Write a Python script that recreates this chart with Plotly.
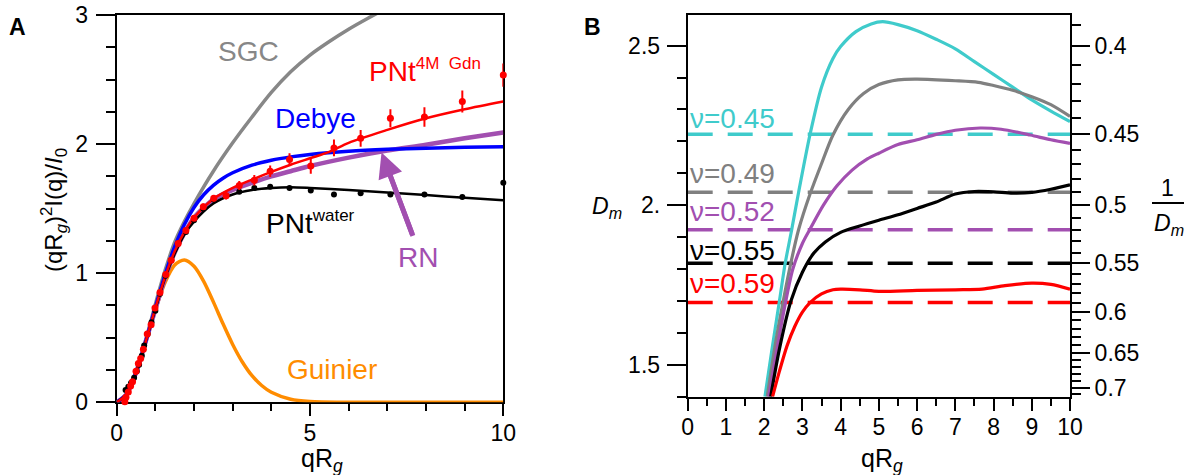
import plotly.graph_objects as go

FONT = "Liberation Sans, Arial, sans-serif"
W, H = 1188, 475

# ---------------- Panel A data ----------------
debye_x = [0, 0.25, 0.5, 0.75, 1, 1.25, 1.5, 1.75, 2, 2.25, 2.5, 2.75, 3, 3.5, 4, 4.5, 5, 6, 7, 8, 9, 10]
debye_y = [0, 0.0612, 0.2304, 0.4703, 0.7358, 0.9883, 1.2048, 1.3775, 1.5092, 1.6074, 1.6806, 1.7356,
           1.7778, 1.8367, 1.875, 1.9012, 1.92, 1.9444, 1.9592, 1.9688, 1.9753, 1.98]

guinier_x = [0, 0.25, 0.5, 0.75, 1, 1.25, 1.5, 1.75, 2, 2.25, 2.5, 2.75, 3, 3.25, 3.5, 3.75, 4, 4.5, 5, 6, 7, 8, 9, 10]
guinier_y = [0, 0.0612, 0.230, 0.466, 0.7165, 0.928, 1.063, 1.103, 1.054, 0.937, 0.778, 0.608, 0.448,
             0.312, 0.206, 0.130, 0.0773, 0.0237, 0.006, 0.0002, 0, 0, 0, 0]

sgc_x = [0, 0.25, 0.5, 0.75, 1, 1.25, 1.5, 1.75, 2, 2.5, 3, 3.5, 4, 4.5, 5, 5.5, 6, 6.5, 7, 7.5]
sgc_y = [0, 0.06, 0.23, 0.48, 0.76, 1.02, 1.24, 1.40, 1.54, 1.79, 2.01, 2.21, 2.40, 2.56, 2.69, 2.795,
         2.89, 2.975, 3.055, 3.13]

rn_x = [0, 0.25, 0.5, 0.75, 1, 1.25, 1.5, 1.75, 2, 2.5, 3, 3.5, 4, 4.5, 5, 6, 7, 8, 9, 10]
rn_y = [0, 0.06, 0.23, 0.47, 0.72, 0.96, 1.16, 1.31, 1.43, 1.57, 1.645, 1.70, 1.75, 1.79, 1.83, 1.895,
        1.95, 1.995, 2.045, 2.09]

water_fit_x = [0, 0.25, 0.5, 0.75, 1, 1.25, 1.5, 1.75, 2, 2.5, 3, 3.5, 4, 4.5, 5, 6, 7, 8, 9, 10]
water_fit_y = [0, 0.06, 0.23, 0.47, 0.72, 0.96, 1.15, 1.30, 1.40, 1.54, 1.61, 1.645, 1.66, 1.665, 1.66,
               1.645, 1.625, 1.605, 1.585, 1.565]

gdn_fit_x = [0, 0.25, 0.5, 0.75, 1, 1.25, 1.5, 1.75, 2, 2.5, 3, 3.5, 4, 4.5, 5, 5.5, 6, 7, 8, 9, 10]
gdn_fit_y = [0, 0.06, 0.23, 0.47, 0.73, 0.97, 1.17, 1.32, 1.43, 1.575, 1.66, 1.725, 1.785, 1.84, 1.89,
             1.94, 2.01, 2.11, 2.20, 2.27, 2.33]

water_pts_x = [0.23, 0.30, 0.37, 0.45, 0.52, 0.58, 0.65, 0.71, 0.80, 0.90, 1.0, 1.12, 1.26, 1.41, 1.59,
               1.79, 2.0, 2.24, 2.51, 2.83, 3.17, 3.56, 3.97, 4.47, 5.02, 5.62, 6.31, 7.08, 7.96, 8.94, 10.0]
water_pts_y = [0.095, 0.12, 0.15, 0.19, 0.24, 0.29, 0.36, 0.44, 0.53, 0.62, 0.71, 0.84, 0.98, 1.10, 1.23,
               1.32, 1.41, 1.50, 1.57, 1.60, 1.63, 1.66, 1.67, 1.66, 1.64, 1.61, 1.62, 1.61, 1.61, 1.59, 1.70]

gdn_pts_x = [0.21, 0.24, 0.30, 0.36, 0.41, 0.50, 0.56, 0.62, 0.69, 0.79, 0.89, 0.99, 1.12, 1.27, 1.41,
             1.59, 1.79, 2.0, 2.24, 2.51, 2.83, 3.17, 3.56, 3.97, 4.47, 5.02, 5.62, 6.31, 7.08, 7.96, 8.94, 10.0]
gdn_pts_y = [0.005, 0.04, 0.08, 0.126, 0.16, 0.24, 0.30, 0.34, 0.41, 0.53, 0.60, 0.73, 0.85, 0.99, 1.10,
             1.23, 1.33, 1.425, 1.515, 1.58, 1.60, 1.68, 1.72, 1.79, 1.88, 1.83, 1.97, 2.045, 2.20, 2.21, 2.33, 2.535]
gdn_pts_err = [0.01, 0.01, 0.01, 0.01, 0.01, 0.01, 0.01, 0.01, 0.01, 0.01, 0.01, 0.01, 0.015, 0.015, 0.015,
               0.02, 0.02, 0.02, 0.025, 0.025, 0.03, 0.035, 0.04, 0.045, 0.05, 0.06, 0.065, 0.065, 0.07,
               0.075, 0.085, 0.09]

# RN arrow (tail -> head) in data units of panel A
rn_arrow_x = [7.66, 6.85]
rn_arrow_y = [1.29, 1.935]

# ---------------- Panel B data ----------------
cyan_x = [2.02, 2.2, 2.4, 2.55, 2.72, 2.9, 3.2, 3.5, 3.8, 4.0, 4.4, 4.8, 5.1, 5.5, 6.0, 6.5, 7.0, 7.5, 8.0,
          8.5, 9.0, 9.5, 10]
cyan_y = [1.40, 1.545, 1.70, 1.818, 1.923, 2.04, 2.222, 2.37, 2.46, 2.497, 2.544, 2.568, 2.575, 2.566,
          2.547, 2.52, 2.49, 2.45, 2.41, 2.37, 2.33, 2.295, 2.262]

gray_x = [2.08, 2.3, 2.5, 2.7, 2.9, 3.2, 3.5, 3.8, 4.2, 4.6, 5.0, 5.5, 6.0, 7.0, 7.6, 8.0, 8.5, 9.0, 9.5, 10]
gray_y = [1.40, 1.57, 1.70, 1.82, 1.923, 2.035, 2.13, 2.22, 2.30, 2.35, 2.378, 2.393, 2.395, 2.39, 2.385,
          2.375, 2.36, 2.34, 2.315, 2.278]

purple_x = [2.12, 2.35, 2.55, 2.75, 3.0, 3.2, 3.55, 3.9, 4.3, 4.7, 5.0, 5.5, 6.0, 6.5, 7.0, 7.65, 8.2, 8.96, 9.5, 10]
purple_y = [1.40, 1.56, 1.69, 1.80, 1.88, 1.925, 2.0, 2.06, 2.11, 2.145, 2.163, 2.19, 2.205, 2.222, 2.235,
            2.242, 2.238, 2.22, 2.205, 2.194]

black_x = [2.17, 2.4, 2.7, 3.0, 3.3, 3.6, 4.0, 4.5, 5.0, 5.5, 6.0, 6.5, 7.0, 7.5, 8.0, 8.5, 9.0, 9.5, 10]
black_y = [1.40, 1.55, 1.70, 1.79, 1.85, 1.885, 1.915, 1.935, 1.953, 1.97, 1.99, 2.01, 2.035, 2.043, 2.042,
           2.038, 2.04, 2.05, 2.064]

red_x = [2.22, 2.4, 2.6, 2.8, 3.0, 3.2, 3.5, 3.8, 4.0, 4.5, 5.0, 6.0, 7.0, 7.7, 8.3, 9.0, 9.5, 10]
red_y = [1.40, 1.48, 1.56, 1.62, 1.665, 1.695, 1.722, 1.735, 1.737, 1.735, 1.73, 1.733, 1.735, 1.737,
         1.748, 1.756, 1.752, 1.737]

nu_values = [0.45, 0.49, 0.52, 0.55, 0.59]
nu_labels = ["ν=0.45", "ν=0.49", "ν=0.52", "ν=0.55", "ν=0.59"]
nu_colors = ["#3FCBCB", "#808080", "#A24FB0", "#000000", "#FF0000"]

inv_major = [0.4, 0.45, 0.5, 0.55, 0.6, 0.65, 0.7]
inv_major_text = ["0.4", "0.45", "0.5", "0.55", "0.6", "0.65", "0.7"]
inv_minor = [0.39, 0.41, 0.42, 0.43, 0.44, 0.46, 0.47, 0.48, 0.49, 0.51, 0.52, 0.53, 0.54, 0.56, 0.57,
             0.58, 0.59, 0.61, 0.62, 0.63, 0.64, 0.66, 0.67, 0.68, 0.69, 0.71]

CYAN, GRAY, PURPLE, BLUE, ORANGE, RED = "#3FCBCB", "#878787", "#A24FB0", "#0000FF", "#FF8C00", "#FF0000"

fig = go.Figure()
spl = dict(shape="spline", smoothing=0.8)

# Panel A traces
fig.add_trace(go.Scatter(x=sgc_x, y=sgc_y, mode="lines", line=dict(color=GRAY, width=3.5, **spl), xaxis="x", yaxis="y"))
fig.add_trace(go.Scatter(x=guinier_x, y=guinier_y, mode="lines", line=dict(color=ORANGE, width=3.5, **spl), xaxis="x", yaxis="y"))
fig.add_trace(go.Scatter(x=rn_x, y=rn_y, mode="lines", line=dict(color=PURPLE, width=4.5, **spl), xaxis="x", yaxis="y"))
fig.add_trace(go.Scatter(x=debye_x, y=debye_y, mode="lines", line=dict(color=BLUE, width=3.5, **spl), xaxis="x", yaxis="y"))
fig.add_trace(go.Scatter(x=water_fit_x, y=water_fit_y, mode="lines", line=dict(color="black", width=2.5, **spl), xaxis="x", yaxis="y"))
fig.add_trace(go.Scatter(x=gdn_fit_x, y=gdn_fit_y, mode="lines", line=dict(color=RED, width=2.5, **spl), xaxis="x", yaxis="y"))
fig.add_trace(go.Scatter(x=water_pts_x, y=water_pts_y, mode="markers", marker=dict(color="black", size=6),
                         cliponaxis=False, xaxis="x", yaxis="y"))
fig.add_trace(go.Scatter(x=gdn_pts_x, y=gdn_pts_y, mode="markers", marker=dict(color=RED, size=7),
                         error_y=dict(type="data", array=gdn_pts_err, thickness=2, width=0, color=RED),
                         cliponaxis=False, xaxis="x", yaxis="y"))
# arrow shaft
fig.add_trace(go.Scatter(x=[rn_arrow_x[0], rn_arrow_x[0] + 0.88 * (rn_arrow_x[1] - rn_arrow_x[0])],
                         y=[rn_arrow_y[0], rn_arrow_y[0] + 0.88 * (rn_arrow_y[1] - rn_arrow_y[0])],
                         mode="lines", line=dict(color=PURPLE, width=5), xaxis="x", yaxis="y"))

# Panel B traces
for v, c in zip(nu_values, nu_colors):
    fig.add_trace(go.Scatter(x=[0, 10], y=[1 / v, 1 / v], mode="lines",
                             line=dict(color=c, width=3.5, dash="25px,15px"), xaxis="x2", yaxis="y2"))
for xs, ys, c in [(cyan_x, cyan_y, CYAN), (gray_x, gray_y, "#808080"), (purple_x, purple_y, PURPLE),
                  (black_x, black_y, "black"), (red_x, red_y, RED)]:
    fig.add_trace(go.Scatter(x=xs, y=ys, mode="lines", line=dict(color=c, width=3.2, **spl), xaxis="x2", yaxis="y2"))

# invisible trace to activate right axis
fig.add_trace(go.Scatter(x=[0], y=[2.0], mode="markers", marker=dict(opacity=0), xaxis="x2", yaxis="y3",
                         hoverinfo="skip"))

tickfont = dict(family=FONT, size=23, color="black")
ax_common = dict(showline=True, linecolor="black", linewidth=2, ticks="outside", tickwidth=2, tickcolor="black",
                 showgrid=False, zeroline=False, tickfont=tickfont, automargin=False)

fig.update_layout(
    width=W, height=H, margin=dict(l=0, r=0, t=0, b=0), showlegend=False,
    paper_bgcolor="white", plot_bgcolor="white", font=dict(family=FONT, color="black"),
    xaxis=dict(domain=[116.7 / W, 503.3 / W], range=[0, 10], anchor="y", tickvals=[0, 5, 10], ticklen=12,
               mirror=True, minor=dict(tick0=0, dtick=1, ticklen=7, tickwidth=2, ticks="outside", tickcolor="black"),
               layer="below traces", ticklabelstandoff=-3, **ax_common),
    yaxis=dict(domain=[1 - 402.3 / H, 1 - 15 / H], range=[0, 3], anchor="x", tickvals=[0, 1, 2, 3], ticklen=19,
               mirror=True, minor=dict(tick0=0, dtick=0.25, ticklen=9, tickwidth=2, ticks="outside", tickcolor="black"),
               layer="below traces", ticklabelstandoff=3, **ax_common),
    xaxis2=dict(domain=[687.7 / W, 1070 / W], range=[0, 10], anchor="y2", dtick=1, tick0=0, ticklen=12,
                mirror=True, minor=dict(tick0=0, dtick=0.5, ticklen=7, tickwidth=2, ticks="outside", tickcolor="black"),
                ticklabelstandoff=-3, **ax_common),
    yaxis2=dict(domain=[1 - 396.7 / H, 1 - 14.7 / H], range=[1.40, 2.597], anchor="x2",
                tickvals=[1.5, 2.0, 2.5], ticktext=["1.5", "2.", "2.5"], ticklen=19,
                minor=dict(tick0=1.5, dtick=0.1, ticklen=9, tickwidth=2, ticks="outside", tickcolor="black"),
                ticklabelstandoff=2, **ax_common),
    yaxis3=dict(overlaying="y2", side="right", anchor="x2", range=[1.40, 2.597],
                tickvals=[1 / v for v in inv_major], ticktext=inv_major_text, ticklen=18,
                minor=dict(tickmode="array", tickvals=[1 / v for v in inv_minor], ticklen=9, tickwidth=2,
                           ticks="outside", tickcolor="black"),
                **ax_common),
)


def px(xp, yp):
    return xp / W, 1 - yp / H


ann = []


def add_text(text, xp, yp, size, color="black", **kw):
    x, y = px(xp, yp)
    d = dict(text=text, x=x, y=y, xref="paper", yref="paper", showarrow=False,
             font=dict(family=FONT, size=size, color=color), xanchor="center", yanchor="middle")
    d.update(kw)
    ann.append(d)


add_text("<b>A</b>", 17, 27, 23)
add_text("<b>B</b>", 592, 27, 23)
add_text("(qR<sub><i>g</i></sub>)<sup>2</sup>I(q)/<i>I</i><sub>0</sub>", 54, 210, 24, textangle=-90)
add_text("qR<sub><i>g</i></sub>", 322, 460, 25)
add_text("qR<sub><i>g</i></sub>", 882, 460, 25)
add_text("<i>D</i><sub><i>m</i></sub>", 607, 207, 23)
add_text("1", 1167, 188, 23)
add_text("<i>D</i><sub><i>m</i></sub>", 1169, 224, 23)

add_text("SGC", 248, 52, 28, GRAY)
add_text("Debye", 315, 118, 28, BLUE)
add_text("PNt<sup><span style='font-size:17px'>4M\u00a0\u00a0Gdn</span></sup>", 425, 70, 28, RED)
add_text("PNt<sup><span style='font-size:17px'>water</span></sup>", 310, 222, 28, "black")
add_text("RN", 418, 257, 28, PURPLE)
add_text("Guinier", 332, 369, 28, ORANGE)

nu_text_y = [118, 173, 211, 251, 283]
for lab, c, yp in zip(nu_labels, nu_colors, nu_text_y):
    add_text(lab, 688, yp, 28, c, xanchor="left")

# RN arrow head
ann.append(dict(x=rn_arrow_x[1], y=rn_arrow_y[1], ax=rn_arrow_x[0], ay=rn_arrow_y[0], xref="x", yref="y",
                axref="x", ayref="y", showarrow=True, arrowhead=2, arrowsize=1, arrowwidth=5,
                arrowcolor=PURPLE, text="", font=dict(size=1), standoff=0, startstandoff=0))

fig.update_layout(annotations=ann)
fig.add_shape(type="line", xref="paper", yref="paper", x0=1152 / W, x1=1184 / W, y0=1 - 203 / H, y1=1 - 203 / H,
              line=dict(color="black", width=2))

fig.write_html("out.html")
